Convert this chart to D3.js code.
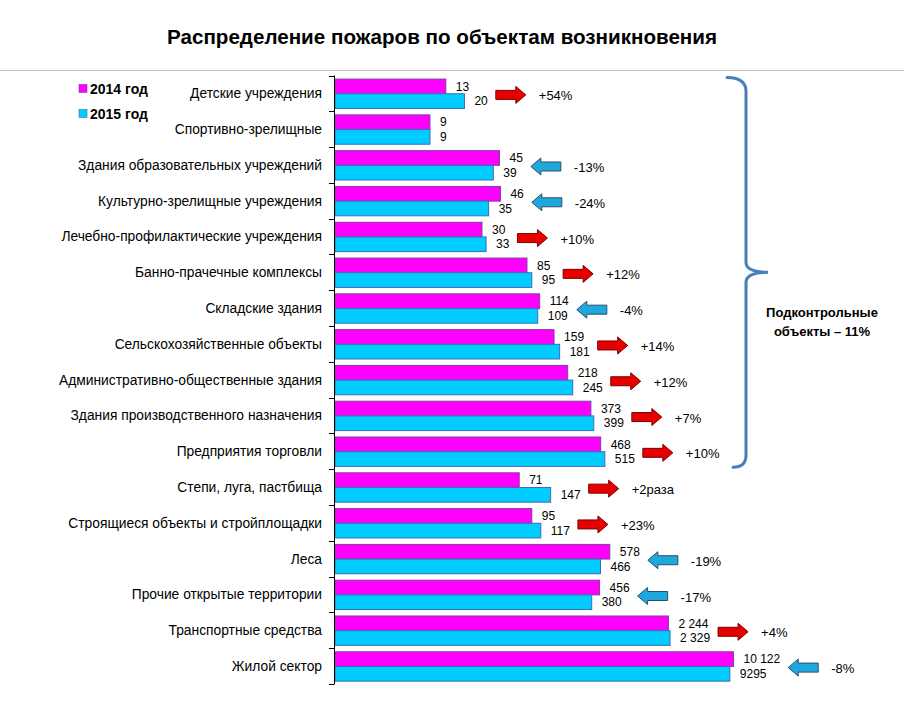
<!DOCTYPE html>
<html>
<head>
<meta charset="utf-8">
<script src="https://cdn.jsdelivr.net/npm/d3@7"></script>
<style>
  html, body { margin: 0; padding: 0; background: #fff; }
  svg { display: block; font-family: "Liberation Sans", Arial, sans-serif; }
</style>
</head>
<body>
<svg id="chart" width="904" height="703"></svg>
<script>
const categories = [
  "Детские учреждения",
  "Спортивно-зрелищные",
  "Здания образовательных учреждений",
  "Культурно-зрелищные учреждения",
  "Лечебно-профилактические учреждения",
  "Банно-прачечные комплексы",
  "Складские здания",
  "Сельскохозяйственные объекты",
  "Административно-общественные здания",
  "Здания производственного назначения",
  "Предприятия торговли",
  "Степи, луга, пастбища",
  "Строящиеся объекты и стройплощадки",
  "Леса",
  "Прочие открытые территории",
  "Транспортные средства",
  "Жилой сектор"
];
const values2014 = [13, 9, 45, 46, 30, 85, 114, 159, 218, 373, 468, 71, 95, 578, 456, 2244, 10122];
const values2015 = [20, 9, 39, 35, 33, 95, 109, 181, 245, 399, 515, 147, 117, 466, 380, 2329, 9295];
const labels2014 = ["13","9","45","46","30","85","114","159","218","373","468","71","95","578","456","2 244","10 122"];
const labels2015 = ["20","9","39","35","33","95","109","181","245","399","515","147","117","466","380","2 329","9295"];
const changes = ["+54%","","-13%","-24%","+10%","+12%","-4%","+14%","+12%","+7%","+10%","+2раза","+23%","-19%","-17%","+4%","-8%"];
const seriesNames = ["2014 год", "2015 год"];
const title = "Распределение пожаров по объектам возникновения";
const bracketText = ["Подконтрольные", "объекты – 11%"];
const bracketLastIndex = 10;

const colors = { c2014: "#FF00FF", c2015: "#00CCFF", s2014: "#7F3F9F", s2015: "#3A6DB5",
  up: "#E60000", upStroke: "#7A0000", down: "#1EA8DC", downStroke: "#2B4E6E", bracket: "#4A7EBB" };

const svg = d3.select("#chart");

// Title and divider
svg.append("text").attr("x", 442).attr("y", 44).attr("text-anchor", "middle")
  .attr("font-size", 20).attr("font-weight", "bold").attr("fill", "#000")
  .attr("textLength", 550).attr("lengthAdjust", "spacingAndGlyphs").text(title);
svg.append("line").attr("x1", 0).attr("x2", 904).attr("y1", 70.5).attr("y2", 70.5)
  .attr("stroke", "#c4c4c4").attr("stroke-width", 1);

// Scales
const x = d3.scaleLog().domain([1, 10000]).range([335, 733]);
const y0 = d3.scaleBand().domain(categories).range([75.5, 684]).padding(0);
const bw = y0.bandwidth();
const y1 = d3.scaleBand().domain(["a", "b"]).range([bw * 0.1, bw * 0.92]).padding(0);

const rows = categories.map((c, i) => ({ c, i, v14: values2014[i], v15: values2015[i],
  l14: labels2014[i], l15: labels2015[i], ch: changes[i] }));

// Bars
const g = svg.append("g");
const rowG = g.selectAll("g.row").data(rows).join("g").attr("class", "row")
  .attr("transform", d => `translate(0,${y0(d.c)})`);

rowG.append("rect").attr("x", x(1)).attr("y", y1("a"))
  .attr("width", d => x(d.v14) - x(1)).attr("height", y1.bandwidth())
  .attr("fill", colors.c2014).attr("stroke", colors.s2014).attr("stroke-width", 1);
rowG.append("rect").attr("x", x(1)).attr("y", y1("b"))
  .attr("width", d => x(d.v15) - x(1)).attr("height", y1.bandwidth())
  .attr("fill", colors.c2015).attr("stroke", colors.s2015).attr("stroke-width", 1);

// Value labels
const lab14 = rowG.append("text").attr("x", d => x(d.v14) + 10).attr("y", y1("a") + y1.bandwidth() / 2)
  .attr("dy", "0.35em").attr("font-size", 12).attr("fill", "#000").text(d => d.l14);
const lab15 = rowG.append("text").attr("x", d => x(d.v15) + 10).attr("y", y1("b") + y1.bandwidth() / 2)
  .attr("dy", "0.35em").attr("font-size", 12).attr("fill", "#000").text(d => d.l15);

// Axis
const axisG = svg.append("g");
axisG.append("line").attr("x1", 334.5).attr("x2", 334.5).attr("y1", y0.range()[0]).attr("y2", y0.range()[1])
  .attr("stroke", "#000").attr("stroke-width", 1);
const tickYs = categories.map(c => y0(c)).concat([y0.range()[1]]);
axisG.selectAll("line.tick").data(tickYs).join("line").attr("class", "tick")
  .attr("x1", 329).attr("x2", 334.5).attr("y1", d => Math.round(d) + 0.5).attr("y2", d => Math.round(d) + 0.5)
  .attr("stroke", "#000").attr("stroke-width", 1);
axisG.selectAll("text.cat").data(categories).join("text").attr("class", "cat")
  .attr("x", 322).attr("y", d => y0(d) + bw / 2).attr("dy", "0.35em")
  .attr("text-anchor", "end").attr("font-size", 13.8).attr("fill", "#000").text(d => d);

// Change arrows
const w14 = lab14.nodes().map(n => n.getComputedTextLength());
const w15 = lab15.nodes().map(n => n.getComputedTextLength());
const arrowLen = 30, bodyH = 9, headH = 17, headL = 10;
rows.forEach((d, i) => {
  if (!d.ch) return;
  const end = Math.max(x(d.v14) + 10 + w14[i], x(d.v15) + 10 + w15[i]);
  const x0 = end + 8;
  const cy = y0(d.c) + bw / 2 + 1.5;
  const up = d.v15 >= d.v14;
  let pts;
  if (up) {
    pts = [[x0, cy - bodyH/2], [x0 + arrowLen - headL, cy - bodyH/2], [x0 + arrowLen - headL, cy - headH/2],
           [x0 + arrowLen, cy], [x0 + arrowLen - headL, cy + headH/2], [x0 + arrowLen - headL, cy + bodyH/2],
           [x0, cy + bodyH/2]];
  } else {
    pts = [[x0 + arrowLen, cy - bodyH/2], [x0 + headL, cy - bodyH/2], [x0 + headL, cy - headH/2],
           [x0, cy], [x0 + headL, cy + headH/2], [x0 + headL, cy + bodyH/2],
           [x0 + arrowLen, cy + bodyH/2]];
  }
  svg.append("path").attr("d", "M" + pts.map(p => p.join(",")).join("L") + "Z")
    .attr("fill", up ? colors.up : colors.down).attr("stroke", up ? colors.upStroke : colors.downStroke)
    .attr("stroke-width", 1).attr("stroke-linejoin", "miter");
  svg.append("text").attr("x", x0 + arrowLen + 13).attr("y", cy + 1).attr("dy", "0.35em")
    .attr("font-size", 13).attr("fill", "#000").text(d.ch);
});

// Legend
const legend = svg.append("g");
seriesNames.forEach((s, i) => {
  const ly = 89 + i * 25;
  legend.append("rect").attr("x", 79).attr("y", ly - 4.5).attr("width", 8).attr("height", 8)
    .attr("fill", i === 0 ? colors.c2014 : colors.c2015).attr("stroke", i === 0 ? colors.s2014 : colors.s2015).attr("stroke-width", 0.6);
  legend.append("text").attr("x", 90).attr("y", ly).attr("dy", "0.35em")
    .attr("font-size", 14).attr("font-weight", "bold").attr("fill", "#000").text(s);
});

// Bracket
const bTop = y0(categories[0]) + 2;
const bBot = y0(categories[bracketLastIndex]) + bw - 2;
const bMid = (bTop + bBot) / 2;
const bx = 746;
const bPath = `M727,${bTop} Q${bx},${bTop} ${bx},${bTop + 14} L${bx},${bMid - 10} Q${bx},${bMid} 768,${bMid}` +
  ` Q${bx},${bMid} ${bx},${bMid + 10} L${bx},${bBot - 12} Q${bx},${bBot} 733,${bBot}`;
svg.append("path").attr("d", bPath).attr("fill", "none").attr("stroke", colors.bracket)
  .attr("stroke-width", 3).attr("stroke-linecap", "round");
bracketText.forEach((t, i) => {
  svg.append("text").attr("x", 822).attr("y", 312 + i * 19).attr("dy", "0.35em")
    .attr("text-anchor", "middle").attr("font-size", 13).attr("font-weight", "bold").attr("fill", "#000").text(t);
});
</script>
</body>
</html>
